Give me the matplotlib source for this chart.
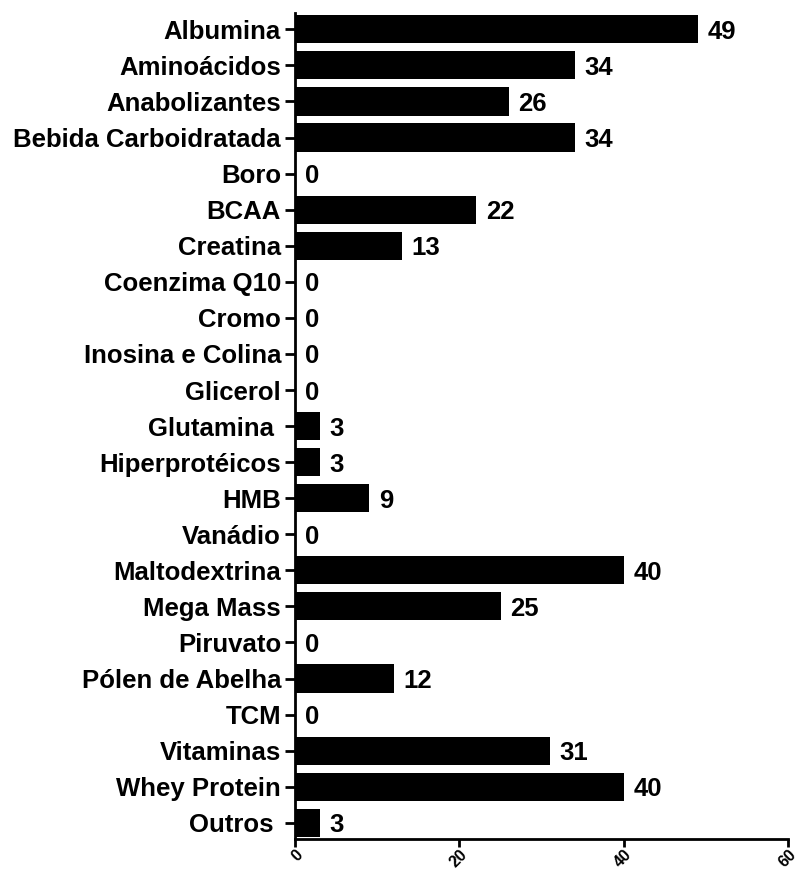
import numpy as np
import matplotlib
matplotlib.use('Agg')
import matplotlib.pyplot as plt

categories = ['Albumina', 'Aminoácidos', 'Anabolizantes', 'Bebida Carboidratada', 'Boro',
              'BCAA', 'Creatina', 'Coenzima Q10', 'Cromo', 'Inosina e Colina', 'Glicerol',
              'Glutamina ', 'Hiperprotéicos', 'HMB', 'Vanádio', 'Maltodextrina', 'Mega Mass',
              'Piruvato', 'Pólen de Abelha', 'TCM', 'Vitaminas', 'Whey Protein', 'Outros ']
values = [49, 34, 26, 34, 0, 22, 13, 0, 0, 0, 0, 3, 3, 9, 0, 40, 25, 0, 12, 0, 31, 40, 3]
xticks = [0, 20, 40, 60]

plt.rcParams['font.family'] = ['Liberation Sans', 'DejaVu Sans']
plt.rcParams['font.weight'] = 'bold'

fig = plt.figure(figsize=(8.06, 8.74), dpi=100)
ax = fig.add_axes([0.366, 0.040, 0.612, 0.945])

y = np.arange(len(categories))
ax.barh(y, values, height=0.78, color='black')
for yi, v in zip(y, values):
    ax.text(v + 1.2, yi, str(v), va='center_baseline', ha='left', fontsize=18.5, fontweight='bold')

ax.set_yticks(y)
ax.set_yticklabels(categories, fontsize=18.5, fontweight='bold')
ax.set_ylim(len(categories) - 1 + 0.45, -0.45)
ax.set_xlim(0, 60)
ax.set_xticks(xticks)
ax.set_xticklabels([str(t) for t in xticks], rotation=45, ha='right', va='top',
                   rotation_mode='anchor', fontsize=11.5, fontweight='bold')

for s in ['top', 'right']:
    ax.spines[s].set_visible(False)
for s in ['left', 'bottom']:
    ax.spines[s].set_linewidth(2)
ax.tick_params(axis='y', width=2, length=7, direction='out', pad=3)
ax.tick_params(axis='x', width=2, length=6, direction='out', pad=0)

fig.savefig('out.png', dpi=100)
